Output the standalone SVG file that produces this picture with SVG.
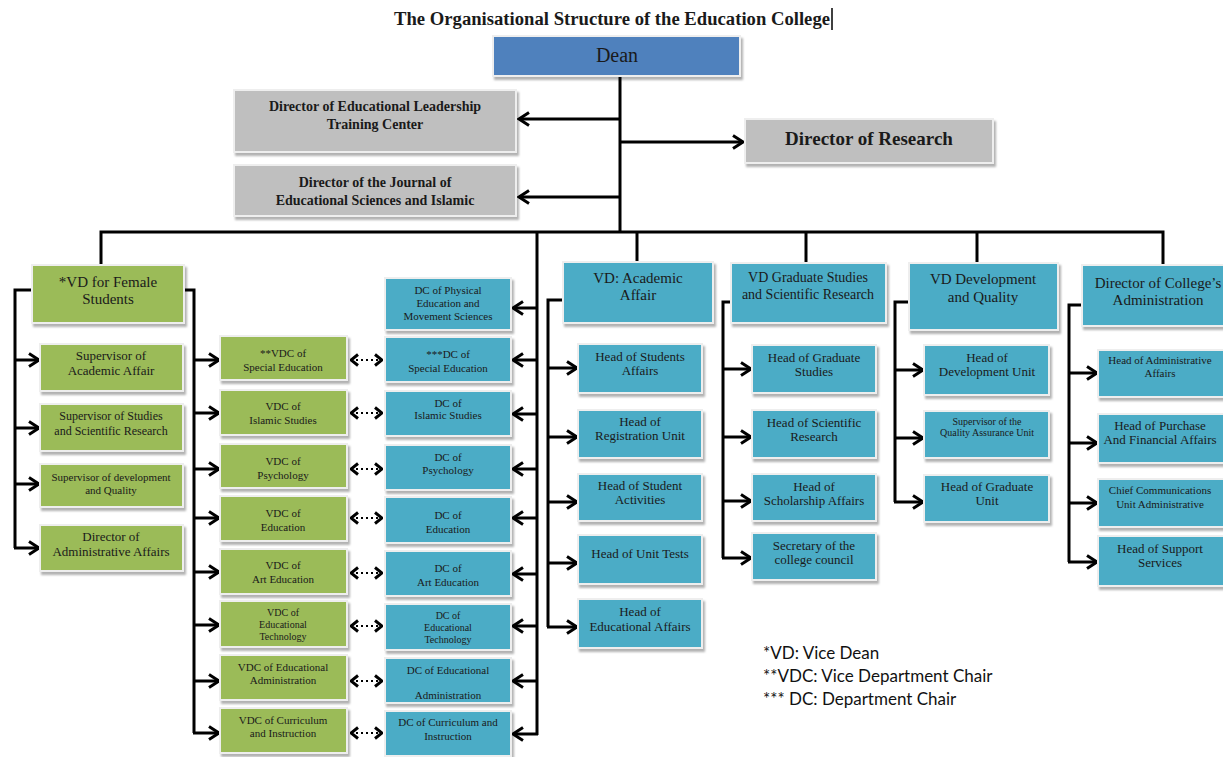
<svg xmlns="http://www.w3.org/2000/svg" width="1223" height="757" viewBox="0 0 1223 757">
<defs>
<style>
rect.n{stroke:#eeeeee;stroke-width:2;filter:url(#sh)}
.g{fill:#9BBB59}.b{fill:#4BACC6}.gr{fill:#BFBFBF}.d{fill:#4F81BD}
text{font-family:"Liberation Serif",serif;fill:#1a1a1a;text-anchor:middle}
.t13{font-size:13px}.t12{font-size:12px}.t11{font-size:11px}.t10{font-size:10px}.t15{font-size:15px}.t14{font-size:14px}
.bd{font-weight:bold}
.c{stroke:#000;stroke-width:3;fill:none}
.a{stroke:#000;stroke-width:3;fill:none;marker-end:url(#ar)}
.dd{stroke:#000;stroke-width:2;fill:none;stroke-dasharray:2,3;marker-start:url(#sm);marker-end:url(#sm)}
.lg{font-family:Lato,"Liberation Sans",sans-serif;font-size:17px;text-anchor:start;fill:#111}
</style>
<filter id="sh" x="-10%" y="-10%" width="130%" height="140%">
<feDropShadow dx="2" dy="3" stdDeviation="1" flood-color="#000" flood-opacity="0.3"/>
</filter>
<marker id="ar" markerUnits="userSpaceOnUse" markerWidth="14" markerHeight="16" viewBox="0 0 14 16" refX="12" refY="8" orient="auto">
<path d="M2,1.5 L12,8 L2,14.5" stroke="#000" stroke-width="3" fill="none"/>
</marker>
<marker id="sm" markerUnits="userSpaceOnUse" markerWidth="10" markerHeight="14" viewBox="0 0 10 14" refX="9" refY="7" orient="auto-start-reverse">
<path d="M2,1.5 L9,7 L2,12.5" stroke="#000" stroke-width="3" fill="none"/>
</marker>
</defs>
<rect width="1223" height="757" fill="#fff"/>
<text x="612" y="25" class="bd" style="font-size:18px" textLength="436" lengthAdjust="spacingAndGlyphs">The Organisational Structure of the Education College</text>
<line x1="832" y1="8" x2="832" y2="30" stroke="#000" stroke-width="1.5"/>

<g id="connectors">
<path class="c" d="M620,76 V232"/>
<path class="a" d="M620,119 H519"/>
<path class="a" d="M620,142 H743"/>
<path class="a" d="M620,197 H519"/>
<path class="c" d="M101,265 V232 H1163 V265"/>
<path class="c" d="M637,232 V262"/>
<path class="c" d="M806,232 V263"/>
<path class="c" d="M977,232 V263"/>
<path class="c" d="M537,232 V735"/>
<path class="a" d="M537,308 H513"/>
<path class="a" d="M537,360 H513"/>
<path class="a" d="M537,414 H513"/>
<path class="a" d="M537,469 H513"/>
<path class="a" d="M537,518 H513"/>
<path class="a" d="M537,574 H513"/>
<path class="a" d="M537,626 H513"/>
<path class="a" d="M537,681 H513"/>
<path class="a" d="M538,734 H513"/>
<path class="c" d="M32,290 H15 V548"/>
<path class="a" d="M15,360 H39"/>
<path class="a" d="M15,428 H39"/>
<path class="a" d="M15,484 H39"/>
<path class="a" d="M14,548 H39"/>
<path class="c" d="M184,290 H194 V733"/>
<path class="a" d="M194,360 H219"/>
<path class="a" d="M194,413 H219"/>
<path class="a" d="M194,469 H219"/>
<path class="a" d="M194,518 H219"/>
<path class="a" d="M194,572 H219"/>
<path class="a" d="M194,625 H219"/>
<path class="a" d="M194,681 H219"/>
<path class="a" d="M193,733 H219"/>
<path class="dd" d="M351,360 H382"/>
<path class="dd" d="M351,413 H382"/>
<path class="dd" d="M351,469 H382"/>
<path class="dd" d="M351,518 H382"/>
<path class="dd" d="M351,573 H382"/>
<path class="dd" d="M351,626 H382"/>
<path class="dd" d="M351,681 H382"/>
<path class="dd" d="M351,733 H382"/>
<path class="c" d="M563,300 H548 V627"/>
<path class="a" d="M548,368 H577"/>
<path class="a" d="M548,437 H577"/>
<path class="a" d="M548,502 H577"/>
<path class="a" d="M548,563 H577"/>
<path class="a" d="M547,627 H577"/>
<path class="c" d="M731,302 H723 V558"/>
<path class="a" d="M723,369 H751"/>
<path class="a" d="M723,437 H751"/>
<path class="a" d="M723,501 H751"/>
<path class="a" d="M722,558 H751"/>
<path class="c" d="M909,302 H895 V502"/>
<path class="a" d="M895,370 H923"/>
<path class="a" d="M895,438 H923"/>
<path class="a" d="M894,502 H923"/>
<path class="c" d="M1082,305 H1069 V562"/>
<path class="a" d="M1069,373 H1097"/>
<path class="a" d="M1069,443 H1097"/>
<path class="a" d="M1069,503 H1097"/>
<path class="a" d="M1068,562 H1097"/>
</g>

<g id="dean"><rect class="n d" x="493" y="36" width="247" height="40"/><text x="617" y="62" style="font-size:20px">Dean</text></g>
<g id="dir-leadership"><rect class="n gr" x="234" y="90" width="282" height="62"/><text class="t14 bd" x="375" y="111">Director of Educational Leadership</text><text class="t14 bd" x="375" y="129">Training Center</text></g>
<g id="dir-research"><rect class="n gr" x="745" y="119" width="248" height="44"/><text class="bd" style="font-size:19px" x="869" y="145">Director of Research</text></g>
<g id="dir-journal"><rect class="n gr" x="234" y="165" width="282" height="51"/><text class="t14 bd" x="375" y="187">Director of the Journal of</text><text class="t14 bd" x="375" y="205">Educational Sciences and Islamic</text></g>

<g id="vd-female"><rect class="n g" x="32" y="265" width="152" height="58"/><text class="t15" x="108" y="287">*VD for Female</text><text class="t15" x="108" y="304">Students</text></g>
<g id="sup-academic"><rect class="n g" x="40" y="344" width="143" height="47"/><text class="t13" x="111" y="360">Supervisor of</text><text class="t13" x="111" y="375">Academic Affair</text></g>
<g id="sup-studies"><rect class="n g" x="40" y="404" width="143" height="47"/><text class="t12" x="111" y="420">Supervisor of Studies</text><text class="t12" x="111" y="435">and Scientific Research</text></g>
<g id="sup-dev"><rect class="n g" x="40" y="464" width="143" height="43"/><text class="t11" x="111" y="481">Supervisor of development</text><text class="t11" x="111" y="494">and Quality</text></g>
<g id="dir-admin-aff"><rect class="n g" x="40" y="525" width="143" height="46"/><text class="t13" x="111" y="541">Director of</text><text class="t13" x="111" y="556">Administrative Affairs</text></g>

<g id="vdc-special"><rect class="n g" x="220" y="336" width="127" height="44"/><text class="t11" x="283" y="357">**VDC of</text><text class="t11" x="283" y="371">Special Education</text></g>
<g id="vdc-islamic"><rect class="n g" x="220" y="390" width="127" height="45"/><text class="t11" x="283" y="410">VDC of</text><text class="t11" x="283" y="424">Islamic Studies</text></g>
<g id="vdc-psych"><rect class="n g" x="220" y="444" width="127" height="44"/><text class="t11" x="283" y="465">VDC of</text><text class="t11" x="283" y="479">Psychology</text></g>
<g id="vdc-edu"><rect class="n g" x="220" y="496" width="127" height="45"/><text class="t11" x="283" y="517">VDC of</text><text class="t11" x="283" y="531">Education</text></g>
<g id="vdc-art"><rect class="n g" x="220" y="549" width="127" height="45"/><text class="t11" x="283" y="569">VDC of</text><text class="t11" x="283" y="583">Art Education</text></g>
<g id="vdc-tech"><rect class="n g" x="220" y="601" width="127" height="46"/><text class="t10" x="283" y="616">VDC of</text><text class="t10" x="283" y="628">Educational</text><text class="t10" x="283" y="640">Technology</text></g>
<g id="vdc-admin"><rect class="n g" x="220" y="655" width="127" height="45"/><text class="t11" x="283" y="671">VDC of Educational</text><text class="t11" x="283" y="684">Administration</text></g>
<g id="vdc-curr"><rect class="n g" x="220" y="708" width="127" height="45"/><text class="t11" x="283" y="724">VDC of Curriculum</text><text class="t11" x="283" y="737">and Instruction</text></g>

<g id="dc-phys"><rect class="n b" x="385" y="278" width="126" height="52"/><text class="t11" x="448" y="294">DC of Physical</text><text class="t11" x="448" y="307">Education and</text><text class="t11" x="448" y="320">Movement Sciences</text></g>
<g id="dc-special"><rect class="n b" x="385" y="337" width="126" height="45"/><text class="t11" x="448" y="358">***DC of</text><text class="t11" x="448" y="372">Special Education</text></g>
<g id="dc-islamic"><rect class="n b" x="385" y="391" width="126" height="45"/><text class="t11" x="448" y="407">DC of</text><text class="t11" x="448" y="419">Islamic Studies</text></g>
<g id="dc-psych"><rect class="n b" x="385" y="445" width="126" height="45"/><text class="t11" x="448" y="461">DC of</text><text class="t11" x="448" y="474">Psychology</text></g>
<g id="dc-edu"><rect class="n b" x="385" y="497" width="126" height="46"/><text class="t11" x="448" y="519">DC of</text><text class="t11" x="448" y="533">Education</text></g>
<g id="dc-art"><rect class="n b" x="385" y="551" width="126" height="45"/><text class="t11" x="448" y="572">DC of</text><text class="t11" x="448" y="586">Art Education</text></g>
<g id="dc-tech"><rect class="n b" x="385" y="604" width="126" height="46"/><text class="t10" x="448" y="619">DC of</text><text class="t10" x="448" y="631">Educational</text><text class="t10" x="448" y="643">Technology</text></g>
<g id="dc-admin"><rect class="n b" x="385" y="658" width="126" height="45"/><text class="t11" x="448" y="674">DC of Educational</text><text class="t11" x="448" y="699">Administration</text></g>
<g id="dc-curr"><rect class="n b" x="385" y="711" width="126" height="45"/><text class="t11" x="448" y="726">DC of Curriculum and</text><text class="t11" x="448" y="740">Instruction</text></g>

<g id="vd-academic"><rect class="n b" x="563" y="262" width="150" height="61"/><text class="t15" x="638" y="283">VD: Academic</text><text class="t15" x="638" y="300">Affair</text></g>
<g id="head-students"><rect class="n b" x="578" y="344" width="124" height="49"/><text class="t13" x="640" y="361">Head of Students</text><text class="t13" x="640" y="375">Affairs</text></g>
<g id="head-reg"><rect class="n b" x="578" y="410" width="124" height="48"/><text class="t13" x="640" y="426">Head of</text><text class="t13" x="640" y="440">Registration Unit</text></g>
<g id="head-act"><rect class="n b" x="578" y="474" width="124" height="47"/><text class="t13" x="640" y="490">Head of Student</text><text class="t13" x="640" y="504">Activities</text></g>
<g id="head-tests"><rect class="n b" x="578" y="535" width="124" height="49"/><text class="t13" x="640" y="558">Head of Unit Tests</text></g>
<g id="head-eduaff"><rect class="n b" x="578" y="599" width="124" height="49"/><text class="t13" x="640" y="616">Head of</text><text class="t13" x="640" y="631">Educational Affairs</text></g>

<g id="vd-graduate"><rect class="n b" x="731" y="263" width="155" height="60"/><text class="t14" x="808" y="282">VD Graduate Studies</text><text class="t14" x="808" y="299">and Scientific Research</text></g>
<g id="head-grad"><rect class="n b" x="752" y="345" width="124" height="48"/><text class="t13" x="814" y="362">Head of Graduate</text><text class="t13" x="814" y="376">Studies</text></g>
<g id="head-sci"><rect class="n b" x="752" y="410" width="124" height="48"/><text class="t13" x="814" y="427">Head of Scientific</text><text class="t13" x="814" y="441">Research</text></g>
<g id="head-schol"><rect class="n b" x="752" y="474" width="124" height="47"/><text class="t13" x="814" y="491">Head of</text><text class="t13" x="814" y="505">Scholarship Affairs</text></g>
<g id="secretary"><rect class="n b" x="752" y="533" width="124" height="47"/><text class="t13" x="814" y="550">Secretary of the</text><text class="t13" x="814" y="564">college council</text></g>

<g id="vd-dev"><rect class="n b" x="909" y="263" width="149" height="67"/><text class="t15" x="983" y="284">VD Development</text><text class="t15" x="983" y="302">and Quality</text></g>
<g id="head-devunit"><rect class="n b" x="924" y="345" width="125" height="50"/><text class="t13" x="987" y="362">Head of</text><text class="t13" x="987" y="376">Development Unit</text></g>
<g id="sup-qa"><rect class="n b" x="924" y="411" width="125" height="47"/><text class="t10" x="987" y="425">Supervisor of the</text><text class="t10" x="987" y="436">Quality Assurance Unit</text></g>
<g id="head-gradunit"><rect class="n b" x="924" y="475" width="125" height="47"/><text class="t13" x="987" y="491">Head of Graduate</text><text class="t13" x="987" y="505">Unit</text></g>

<g id="dir-college-admin"><rect class="n b" x="1082" y="265" width="150" height="61"/><text class="t15" x="1158" y="288">Director of College’s</text><text class="t15" x="1158" y="305">Administration</text></g>
<g id="head-adminaff"><rect class="n b" x="1098" y="350" width="130" height="47"/><text class="t11" x="1160" y="364">Head of Administrative</text><text class="t11" x="1160" y="377">Affairs</text></g>
<g id="head-purchase"><rect class="n b" x="1098" y="414" width="130" height="49"/><text class="t13" x="1160" y="430">Head of Purchase</text><text class="t13" x="1160" y="444">And Financial Affairs</text></g>
<g id="chief-comm"><rect class="n b" x="1098" y="479" width="130" height="48"/><text class="t11" x="1160" y="494">Chief Communications</text><text class="t11" x="1160" y="508">Unit Administrative</text></g>
<g id="head-support"><rect class="n b" x="1098" y="536" width="130" height="50"/><text class="t13" x="1160" y="553">Head of Support</text><text class="t13" x="1160" y="567">Services</text></g>

<g id="legend">
<text class="lg" x="763" y="659">*VD: Vice Dean</text>
<text class="lg" x="763" y="682">**VDC: Vice Department Chair</text>
<text class="lg" x="763" y="705">*** DC: Department Chair</text>
</g>
</svg>
